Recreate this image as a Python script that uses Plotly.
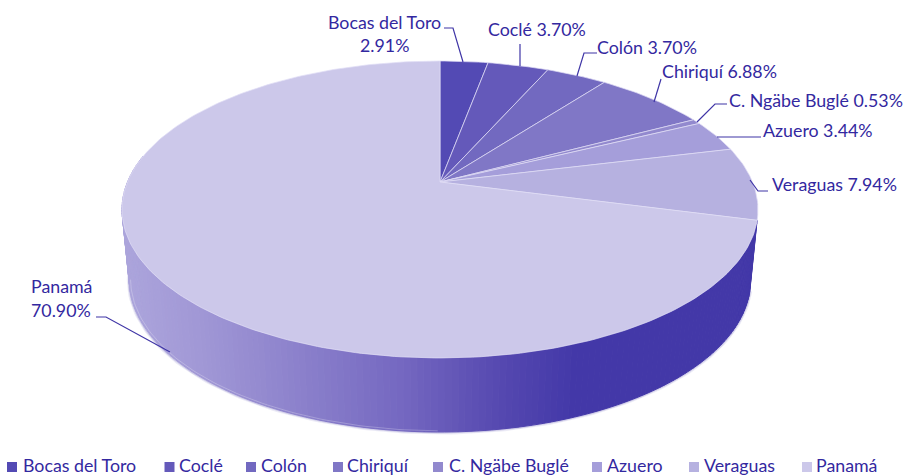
import math
import plotly.graph_objects as go

categories = ["Bocas del Toro", "Coclé", "Colón", "Chiriquí", "C. Ngäbe Buglé", "Azuero", "Veraguas", "Panamá"]
values = [2.91, 3.70, 3.70, 6.88, 0.53, 3.44, 7.94, 70.90]
slice_colors = ["#534AB4", "#6459BA", "#7269C0", "#8077C6", "#9289CE", "#A59EDA", "#B6B1E0", "#CCC8EA"]
text_color = "#3328A0"
line_color = "#3F35A6"
FONT = "Lato"
FS = 17.8

# label text, x, y, anchor
point_labels = [
    ("Bocas del Toro", 384, 22, "center"), ("2.91%", 384, 45, "center"),
    ("Coclé 3.70%", 486, 29, "left"), ("Colón 3.70%", 595, 47, "left"),
    ("Chiriquí 6.88%", 660, 71, "left"), ("C. Ngäbe Buglé 0.53%", 727, 100, "left"),
    ("Azuero 3.44%", 761, 130, "left"), ("Veraguas 7.94%", 770, 184, "left"),
    ("Panamá", 61, 286, "center"), ("70.90%", 61, 310, "center"),
]
leaders = [
    [(444, 28), (453, 28), (463, 62)], [(520, 44), (520, 66)],
    [(597, 53), (584, 53), (577, 76)], [(661, 79), (654, 102)],
    [(727, 104), (715, 104), (697, 122)], [(761, 137), (717, 137)],
    [(768, 191), (758, 191), (750, 180)], [(96, 317), (106, 317), (170, 352)],
]
legend_swatch_x = [12, 169.5, 251, 338, 438, 597, 694, 807]
legend_text_x = [21, 177, 259, 345, 447, 605, 702, 814]

# perspective projection of the disc
CX, TOP_Y, A, B, K = 440, 182, 312.5, 143.4, 0.185
BOT_Y, A2, B2, K2 = 251.9, 305.3, 146.8, 0.185


def proj(theta, cy=TOP_Y, a=A, b=B, k=K):
    u, v = math.sin(theta), math.cos(theta)
    d = 1 + k * v
    return CX + a * u / d, cy - b * v / d


def hex2rgb(h):
    return [int(h[i:i + 2], 16) for i in (1, 3, 5)]


side_stops = [(122, "#ADA6DC"), (200, "#A198D6"), (267, "#9389CF"), (333, "#8479C8"), (400, "#7568C1"),
              (450, "#6558B8"), (500, "#5548B0"), (573, "#4338A8"), (760, "#4338A8")]


def side_color(x):
    for (x0, c0), (x1, c1) in zip(side_stops, side_stops[1:]):
        if x <= x1:
            t = max(0, (x - x0) / (x1 - x0))
            r = [round(p + (q - p) * t) for p, q in zip(hex2rgb(c0), hex2rgb(c1))]
            return "rgb(%d,%d,%d)" % tuple(r)
    return side_stops[-1][1]


fig = go.Figure()
total = sum(values)
fracs = []
acc = 0
for v in values:
    fracs.append((acc / total, (acc + v) / total))
    acc += v

side_start = fracs[-1][0] * 2 * math.pi
side_end = 1.56 * math.pi
n = 170
thetas = [side_start + (side_end - side_start) * i / n for i in range(n + 1)]

# soft edge below the rim
for w, op in [(5, 0.10), (3, 0.18)]:
    pts = [proj(t, BOT_Y, A2, B2, K2) for t in thetas]
    fig.add_trace(go.Scatter(x=[p[0] for p in pts], y=[p[1] for p in pts], mode="lines",
                             line=dict(color="rgba(67,56,168,%g)" % op, width=w), hoverinfo="skip", showlegend=False))

# side wall of the large slice, as narrow strips
for t0, t1 in zip(thetas, thetas[1:]):
    p0, p1 = proj(t0), proj(t1)
    q0, q1 = proj(t0, BOT_Y, A2, B2, K2), proj(t1, BOT_Y, A2, B2, K2)
    col = side_color((q0[0] + q1[0]) / 2)
    fig.add_trace(go.Scatter(x=[p0[0], p1[0], q1[0], q0[0], p0[0]], y=[p0[1], p1[1], q1[1], q0[1], p0[1]],
                             mode="lines", fill="toself", fillcolor=col, line=dict(color=col, width=1),
                             hoverinfo="skip", showlegend=False))

# thin highlight just inside the lower rim, left half
rim = [proj(t, BOT_Y - 1.2, A2 - 1.2, B2, K2) for t in thetas if math.pi <= t <= 1.44 * math.pi]
fig.add_trace(go.Scatter(x=[p[0] for p in rim], y=[p[1] for p in rim], mode="lines",
                         line=dict(color="rgba(255,255,255,0.35)", width=0.7), hoverinfo="skip", showlegend=False))

# top faces
for name, (f0, f1), col in zip(categories, fracs, slice_colors):
    steps = max(3, int((f1 - f0) * 360))
    ts = [2 * math.pi * (f0 + (f1 - f0) * i / steps) for i in range(steps + 1)]
    pts = [proj(t) for t in ts]
    xs = [CX] + [p[0] for p in pts] + [CX]
    ys = [TOP_Y] + [p[1] for p in pts] + [TOP_Y]
    fig.add_trace(go.Scatter(x=xs, y=ys, mode="lines", fill="toself", fillcolor=col,
                             line=dict(color="rgba(225,222,245,0.9)", width=0.8), name=name,
                             hoverinfo="name", showlegend=False))

shapes = []
for path in leaders:
    d = "M " + " L ".join("%g %g" % p for p in path)
    shapes.append(dict(type="path", path=d, xref="x", yref="y", line=dict(color=line_color, width=1.2)))
for x, col in zip(legend_swatch_x, slice_colors):
    shapes.append(dict(type="rect", xref="x", yref="y", x0=x - 5, x1=x + 5, y0=462, y1=472,
                       fillcolor=col, line=dict(width=0)))

ann = []
for text, x, y, anchor in point_labels:
    ann.append(dict(x=x, y=y, xref="x", yref="y", text=text, showarrow=False, xanchor=anchor, yanchor="middle",
                    font=dict(family=FONT, size=FS, color=text_color)))
for name, x in zip(categories, legend_text_x):
    ann.append(dict(x=x, y=465, xref="x", yref="y", text=name, showarrow=False, xanchor="left", yanchor="middle",
                    font=dict(family=FONT, size=FS, color=text_color)))

fig.update_layout(
    width=904, height=475, margin=dict(l=0, r=0, t=0, b=0), paper_bgcolor="white", plot_bgcolor="white",
    xaxis=dict(range=[0, 904], visible=False, fixedrange=True),
    yaxis=dict(range=[475, 0], visible=False, fixedrange=True),
    shapes=shapes, annotations=ann, showlegend=False,
)
fig.write_html("out.html", config=dict(displayModeBar=False),
               post_script="document.body.style.margin='0';document.body.style.overflow='hidden';")
